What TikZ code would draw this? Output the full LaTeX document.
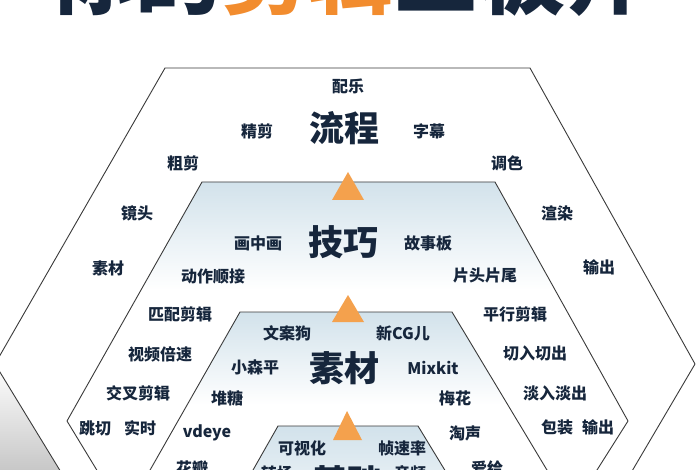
\documentclass[tikz,border=0pt]{standalone}
\usepackage{fontspec}
\newfontfamily\cjk{Noto Sans CJK SC}
\definecolor{navy}{HTML}{16263C}
\definecolor{edgec}{HTML}{3A3A3A}
\definecolor{tint}{HTML}{D2E2EB}
\definecolor{tric}{HTML}{F4A14D}
\definecolor{orangeT}{HTML}{F28C2E}
\definecolor{shadowc}{HTML}{B8B8B8}
\tikzset{
  lbl/.style={font=\cjk\bfseries\fontsize{16}{16}\selectfont, text=navy, inner sep=0pt},
  biglbl/.style={font=\cjk\bfseries\fontsize{35}{35}\selectfont, text=navy, inner sep=0pt},
  edgeline/.style={draw=edgec, line width=0.9pt, line join=round},
  arrowtri/.style={fill=tric, draw=none},
}
\begin{document}
\begin{tikzpicture}[x=1pt,y=-1pt]
\useasboundingbox (0,0) rectangle (700,470);
\clip (0,0) rectangle (700,470);
\fill[white] (0,0) rectangle (700,470);

% shadow in lower-left corner
\shade[top color=white, bottom color=shadowc] (-5,364) -- (78,500) -- (-10,500) -- cycle;

% outer hexagon
\draw[edgeline, fill=white] (165,68) -- (530,68) -- (695,364) -- (615,500) -- (78,500) -- (-5,364) -- cycle;

% second layer
\begin{scope}
  \clip (202,182) -- (495,182) -- (628,421) -- (578,500) -- (115,500) -- (67,421) -- cycle;
  \fill[white] (0,182) rectangle (700,500);
  \shade[top color=tint, bottom color=white] (0,182) rectangle (700,290);
\end{scope}
\draw[edgeline] (202,182) -- (495,182) -- (628,421) -- (578,500) -- (115,500) -- (67,421) -- cycle;

% third layer
\begin{scope}
  \clip (240,312) -- (452,312) -- (565,500) -- (133,500) -- cycle;
  \fill[white] (0,312) rectangle (700,500);
  \shade[top color=tint, bottom color=white] (0,312) rectangle (700,405);
\end{scope}
\draw[edgeline] (240,312) -- (452,312) -- (565,500) -- (133,500) -- cycle;

% fourth layer
\begin{scope}
  \clip (278,426) -- (418,426) -- (463,500) -- (236,500) -- cycle;
  \shade[top color=tint, bottom color=tint!40!white] (0,426) rectangle (700,500);
\end{scope}
\draw[edgeline] (278,426) -- (418,426) -- (463,500) -- (236,500) -- cycle;

% orange triangles
\fill[arrowtri] (348,172) -- (364,200) -- (332,200) -- cycle;
\fill[arrowtri] (348,295) -- (364,322) -- (332,322) -- cycle;
\fill[arrowtri] (347,411) -- (362,440) -- (333,440) -- cycle;

% title (cut off at top)
\node[anchor=base, inner sep=0pt, font=\cjk\bfseries\fontsize{86}{86}\selectfont, text=navy] (title) at (350,8) {你的\textcolor{orangeT}{剪辑}三板斧};

% layer 1
\node[biglbl] (liucheng) at (344,128) {流程};
\node[lbl] (peiyue) at (348,86) {配乐};
\node[lbl] (jingjian) at (257,131) {精剪};
\node[lbl] (zimu) at (429,131) {字幕};
\node[lbl] (cujian) at (183,163) {粗剪};
\node[lbl] (tiaose) at (507,163) {调色};
\node[lbl] (jingtou) at (137,213) {镜头};
\node[lbl] (xuanran) at (557,213) {渲染};
\node[lbl] (sucai1) at (108,268) {素材};
\node[lbl] (shuchu1) at (599,267) {输出};

% layer 2
\node[biglbl] (jiqiao) at (343,242) {技巧};
\node[lbl] (huazhonghua) at (258,243) {画中画};
\node[lbl] (gushiban) at (428,243) {故事板};
\node[lbl] (dongzuo) at (213,276) {动作顺接};
\node[lbl] (piantou) at (485,275) {片头片尾};
\node[lbl] (pipei) at (180,314) {匹配剪辑};
\node[lbl] (pingxing) at (515,314) {平行剪辑};
\node[lbl] (beisu) at (160,354) {视频倍速};
\node[lbl] (qieru) at (535,353) {切入切出};
\node[lbl] (jiaocha) at (138,393) {交叉剪辑};
\node[lbl] (danru) at (555,393) {淡入淡出};
\node[lbl] (tiaoqie) at (95,428) {跳切};
\node[lbl] (shishi) at (140,428) {实时};
\node[lbl] (baozhuang) at (557,427) {包装};
\node[lbl] (shuchu2) at (598,427) {输出};

% layer 3
\node[biglbl] (sucai) at (344,368) {素材};
\node[lbl] (wenan) at (287,333) {文案狗};
\node[lbl] (xincg) at (403,333) {新CG儿};
\node[lbl] (xiaosen) at (255,367) {小森平};
\node[lbl] (mixkit) at (433,368) {Mixkit};
\node[lbl] (duitang) at (227,398) {堆糖};
\node[lbl] (meihua) at (455,398) {梅花};
\node[lbl] (vdeye) at (207,433) {vdeye};
\node[lbl] (taosheng) at (465,433) {淘声};
\node[lbl] (huaban) at (192,468) {花瓣};
\node[lbl] (aigei) at (487,468) {爱给};

% layer 4
\node[biglbl] (jichu) at (347,482) {基础};
\node[lbl] (keshihua) at (302,448) {可视化};
\node[lbl] (zhenlv) at (402,448) {帧速率};
\node[lbl] (zhuanchang) at (277,473) {转场};
\node[lbl] (yinpin) at (410,473) {音频};
\end{tikzpicture}
\end{document}
